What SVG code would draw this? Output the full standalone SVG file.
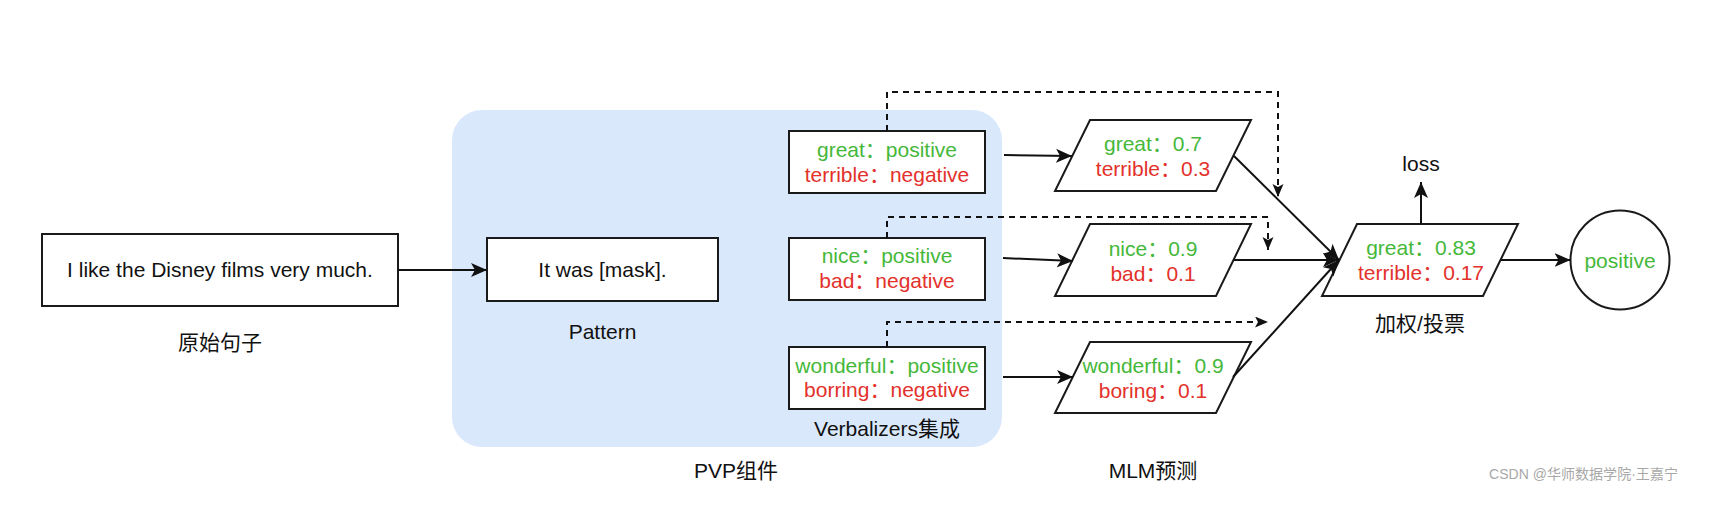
<svg xmlns="http://www.w3.org/2000/svg" width="1730" height="510" viewBox="0 0 1730 510">
<style>
text{font-family:"Liberation Sans","Noto Sans CJK SC",sans-serif;font-size:21px;text-anchor:middle;fill:#111}
.g{fill:#45b83a}
.r{fill:#e3312b}
.box{fill:#fff;stroke:#1a1a1a;stroke-width:2}
.ln{fill:none;stroke:#111;stroke-width:2}
.dl{fill:none;stroke:#111;stroke-width:2;stroke-dasharray:6 5}
.wm{font-size:14px;fill:#a8a8a8;text-anchor:start}
</style>
<defs>
<marker id="arr" markerUnits="userSpaceOnUse" markerWidth="18" markerHeight="16" refX="16" refY="7" orient="auto">
<path d="M0,0 L16,7 L0,14 L4,7 Z" fill="#111"/>
</marker>
<marker id="arrd" markerUnits="userSpaceOnUse" markerWidth="15" markerHeight="12" refX="13" refY="5.5" orient="auto">
<path d="M0,0 L13,5.5 L0,11 L3,5.5 Z" fill="#111"/>
</marker>
</defs>
<rect width="1730" height="510" fill="#fff"/>

<g id="pvp-container">
<rect x="452" y="110" width="550" height="337" rx="30" ry="30" fill="#dae8fc"/>
<text x="736" y="478">PVP组件</text>
</g>

<g id="sentence">
<rect class="box" x="42" y="234" width="356" height="72"/>
<text x="220" y="277">I like the Disney films very much.</text>
<text x="220" y="350">原始句子</text>
</g>

<g id="pattern">
<rect class="box" x="487" y="238" width="231" height="63"/>
<text x="602.5" y="277">It was [mask].</text>
<text x="602.5" y="339">Pattern</text>
</g>

<g id="verbalizer1">
<rect class="box" x="789" y="131" width="196" height="62"/>
<text x="887" y="157" class="g">great：positive</text>
<text x="887" y="182" class="r">terrible：negative</text>
</g>

<g id="verbalizer2">
<rect class="box" x="789" y="238" width="196" height="62"/>
<text x="887" y="263" class="g">nice：positive</text>
<text x="887" y="288" class="r">bad：negative</text>
</g>

<g id="verbalizer3">
<rect class="box" x="789" y="347" width="196" height="62"/>
<text x="887" y="373" class="g">wonderful：positive</text>
<text x="887" y="397" class="r">borring：negative</text>
<text x="887" y="436">Verbalizers集成</text>
</g>

<g id="mlm1">
<polygon class="box" points="1090,120 1251,120 1216,191 1055,191"/>
<text x="1153" y="151" class="g">great：0.7</text>
<text x="1153" y="176" class="r">terrible：0.3</text>
</g>

<g id="mlm2">
<polygon class="box" points="1090,224 1251,224 1216,296 1055,296"/>
<text x="1153" y="256" class="g">nice：0.9</text>
<text x="1153" y="281" class="r">bad：0.1</text>
</g>

<g id="mlm3">
<polygon class="box" points="1090,342 1251,342 1216,413 1055,413"/>
<text x="1153" y="373" class="g">wonderful：0.9</text>
<text x="1153" y="398" class="r">boring：0.1</text>
<text x="1153" y="478">MLM预测</text>
</g>

<g id="vote">
<polygon class="box" points="1357,224 1518,224 1483,296 1322,296"/>
<text x="1421" y="255" class="g">great：0.83</text>
<text x="1421" y="280" class="r">terrible：0.17</text>
<text x="1420" y="331">加权/投票</text>
</g>

<g id="loss">
<text x="1421" y="171">loss</text>
</g>

<g id="result">
<circle class="box" cx="1620" cy="260" r="49.5"/>
<text x="1620" y="268" class="g">positive</text>
</g>

<g id="connectors">
<line class="ln" x1="398" y1="270" x2="487" y2="270" marker-end="url(#arr)"/>
<line class="ln" x1="1004" y1="155" x2="1072" y2="156" marker-end="url(#arr)"/>
<line class="ln" x1="1003" y1="258" x2="1073" y2="261" marker-end="url(#arr)"/>
<line class="ln" x1="1003" y1="377" x2="1073" y2="377" marker-end="url(#arr)"/>
<line class="ln" x1="1234" y1="156" x2="1339" y2="260" marker-end="url(#arr)"/>
<line class="ln" x1="1233" y1="260" x2="1339" y2="260" marker-end="url(#arr)"/>
<line class="ln" x1="1233" y1="377" x2="1339" y2="260" marker-end="url(#arr)"/>
<line class="ln" x1="1421" y1="224" x2="1421" y2="182" marker-end="url(#arr)"/>
<line class="ln" x1="1501" y1="260" x2="1570.5" y2="260" marker-end="url(#arr)"/>
<path class="dl" d="M887,131 V92 H1278 V197" marker-end="url(#arrd)"/>
<path class="dl" d="M887,238 V217 H1268 V250" marker-end="url(#arrd)"/>
<path class="dl" d="M887,347 V322 H1268" marker-end="url(#arrd)"/>
</g>

<text class="wm" x="1489" y="479" textLength="189" lengthAdjust="spacingAndGlyphs">CSDN @华师数据学院·王嘉宁</text>
</svg>
